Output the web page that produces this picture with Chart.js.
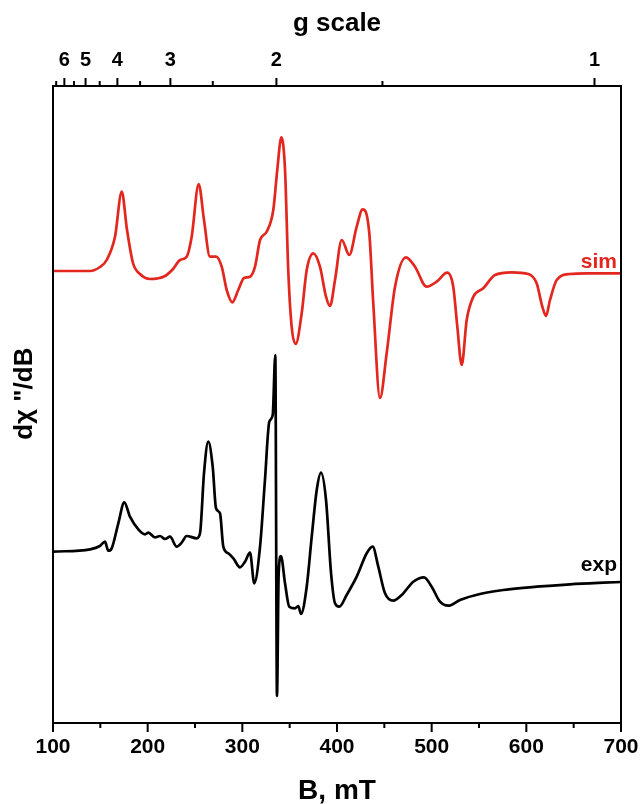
<!DOCTYPE html>
<html>
<head>
<meta charset="utf-8">
<script src="https://cdn.jsdelivr.net/npm/chart.js@4/dist/chart.umd.min.js"></script>
<style>
  html, body { margin: 0; padding: 0; background: #ffffff; }
  #wrap { width: 642px; height: 804px; position: relative; }
</style>
</head>
<body>
<div id="wrap"><canvas id="c"></canvas></div>
<script>
// ---- data ----
// conversion constant: B (mT) * g  (X-band, ~9.40 GHz)
const G_CONST = 672;

// tick values
const bMajorTicks = [100, 200, 300, 400, 500, 600, 700];
const bMinorTicks = [150, 250, 350, 450, 550, 650];
const gMajorTicks = [6, 5, 4, 3, 2, 1];
const gMinorTicks = [6.5, 5.5, 4.5, 3.5, 2.5, 1.5];

// simulated spectrum (red), field in mT, intensity in arbitrary units
const simField = [100,139,149.6,156.7,165.5,172.6,178.2,184.5,191.9,202.5,218.3,226.8,234.2,241.2,246.5,253.9,259.5,265.8,272.2,278.2,283.5,289.4,295.7,301.8,308.1,313.4,318.7,325.7,332.7,336.9,341.2,345.1,348.5,352.1,356.4,362.7,368,375,382,388.4,392.6,397.9,405,413,420.8,427.1,434.1,438.3,445.4,452.5,461.3,472.9,482.4,494.7,505.3,516.5,522.8,527.1,531.7,537,544,554.5,566.9,584.5,602.1,610.9,616.9,620.8,625,632.1,646.1,663.8,700];
const simSignal = [452,452,456,463,486.3,531.3,493,460,449,444,447,454,463,466.3,486.3,539,503,466.3,466.3,456.3,433,420.7,433,445,446.3,456.3,483,491.3,513,553,585.7,553,453,396.3,379,409.7,453,469.7,456.3,426.3,417,443,483,468,496.3,513.7,490,420,325,370,436.3,465.7,456.3,436.3,441.3,450.3,436.3,396.3,358,403,426.3,434.7,448,450.7,449,439.7,416.3,407,423,443,449,449.7,449.7];

// experimental spectrum (black)
const expField = [100,139.1,149.6,154.9,158.4,162,169,175.3,181.3,190.1,197.2,200.7,207.7,213,218.3,223.6,230.7,235.9,241.2,251.8,255.3,259.5,264,268.7,272.2,276.4,279.9,285.2,290.5,297.5,302.8,308.1,312.6,318.7,323.9,328.5,332.1,334.8,336.6,338.4,340.8,345.1,349.6,355.6,359.1,362,368,373.3,378.6,383.1,388.4,393.7,397.9,402.4,410.2,420.8,431.4,437.7,443.6,450.7,459.5,468.3,480.6,491.9,500,508.8,517.6,529.9,551,575.7,610.9,646.1,681.3,700];
const expSignal = [171.3,173.7,177,181.3,172.3,174.7,199.7,220.7,206.3,193.7,188.7,190.3,185.7,187,184,186.3,176.3,180.3,187,184.7,189.7,249.7,281.3,256.3,214.7,209.7,176.3,169.7,164.7,155.7,161.3,170.3,139.7,176.3,243,301.3,308,368,27,149.7,167,139.7,116.3,114.7,117,109,136.3,186.3,233,250.3,223,150,119.7,116.3,128,146.3,169.7,176.3,156.3,129.7,122.3,128,141.3,145.7,136.3,121.3,117.3,123,129,133,136.3,138.7,140.3,141];

const seriesNames = ['sim', 'exp'];

// ---- chart ----
Chart.defaults.font.family = "'Liberation Sans', Arial, sans-serif";
Chart.defaults.color = '#000';

const toXY = (xs, ys) => xs.map((x, i) => ({ x: x, y: ys[i] }));

const framePlugin = {
  id: 'frame',
  afterDraw(chart) {
    const { ctx, chartArea: a, scales } = chart;
    const xb = scales.x, xt = scales.xTop, y = scales.y;
    ctx.save();
    ctx.strokeStyle = '#000';
    ctx.lineWidth = 2;
    ctx.strokeRect(a.left, a.top, a.right - a.left, a.bottom - a.top);
    ctx.beginPath();
    bMajorTicks.forEach(v => { const p = xb.getPixelForValue(v); ctx.moveTo(p, a.bottom); ctx.lineTo(p, a.bottom + 9); });
    bMinorTicks.forEach(v => { const p = xb.getPixelForValue(v); ctx.moveTo(p, a.bottom); ctx.lineTo(p, a.bottom + 5); });
    gMajorTicks.forEach(g => { const p = xt.getPixelForValue(G_CONST / g); ctx.moveTo(p, a.top); ctx.lineTo(p, a.top - 8); });
    gMinorTicks.forEach(g => { const p = xt.getPixelForValue(G_CONST / g); ctx.moveTo(p, a.top); ctx.lineTo(p, a.top - 5); });
    ctx.stroke();

    // series labels
    ctx.font = "bold 21px 'Liberation Sans', Arial, sans-serif";
    ctx.textAlign = 'right';
    ctx.textBaseline = 'alphabetic';
    ctx.fillStyle = '#e3261e';
    ctx.fillText(seriesNames[0], a.right - 4, y.getPixelForValue(simSignal[simSignal.length - 1]) - 5);
    ctx.fillStyle = '#000';
    ctx.fillText(seriesNames[1], a.right - 4, y.getPixelForValue(expSignal[expSignal.length - 1]) - 11);
    ctx.restore();
  }
};

const hiddenGrid = (len) => ({ display: true, drawOnChartArea: false, drawTicks: true, tickLength: len,
                               color: 'rgba(0,0,0,0)', tickColor: 'rgba(0,0,0,0)' });

new Chart(document.getElementById('c'), {
  type: 'line',
  data: {
    datasets: [
      { label: seriesNames[0], data: toXY(simField, simSignal), borderColor: '#e3261e', borderWidth: 2.7,
        pointRadius: 0, cubicInterpolationMode: 'monotone', fill: false, xAxisID: 'x', yAxisID: 'y' },
      { label: seriesNames[1], data: toXY(expField, expSignal), borderColor: '#000000', borderWidth: 2.7,
        pointRadius: 0, cubicInterpolationMode: 'monotone', fill: false, xAxisID: 'x', yAxisID: 'y' }
    ]
  },
  options: {
    responsive: true,
    maintainAspectRatio: false,
    animation: false,
    layout: { padding: 0 },
    plugins: { legend: { display: false }, tooltip: { enabled: false } },
    scales: {
      x: {
        type: 'linear', position: 'bottom', min: 100, max: 700,
        afterBuildTicks: s => { s.ticks = bMajorTicks.map(v => ({ value: v })); },
        afterFit: s => { s.height = 81; },
        grid: hiddenGrid(12),
        border: { display: false },
        ticks: { padding: 0, autoSkip: false, maxRotation: 0, color: '#000', font: { size: 21, weight: 'bold' } },
        title: { display: true, text: 'B, mT', color: '#000', font: { size: 28, weight: 'bold' }, padding: { top: 0, bottom: -4 } }
      },
      xTop: {
        type: 'linear', position: 'top', min: 100, max: 700,
        afterBuildTicks: s => { s.ticks = gMajorTicks.map(g => ({ value: G_CONST / g })); },
        afterFit: s => { s.height = 86; },
        grid: hiddenGrid(14),
        border: { display: false },
        ticks: { padding: 0, autoSkip: false, maxRotation: 0, color: '#000', font: { size: 20, weight: 'bold' },
                 callback: (v, i) => String(gMajorTicks[i]) },
        title: { display: true, text: 'g scale', color: '#000', font: { size: 26, weight: 'bold' }, padding: { top: 8, bottom: 0 } }
      },
      y: {
        type: 'linear', position: 'left', min: 0, max: 637,
        afterFit: s => { s.width = 53; },
        grid: { display: false, drawTicks: false },
        border: { display: false },
        ticks: { display: false },
        title: { display: true, text: '\u00A0\u00A0\u00A0d\u03C7 "/dB', color: '#000', font: { size: 26, weight: 'bold' }, padding: { top: 9, bottom: 0 } }
      },
      yRight: {
        type: 'linear', position: 'right', min: 0, max: 637,
        afterFit: s => { s.width = 21; },
        grid: { display: false, drawTicks: false },
        border: { display: false },
        ticks: { display: false }
      }
    }
  },
  plugins: [framePlugin]
});
</script>
</body>
</html>
